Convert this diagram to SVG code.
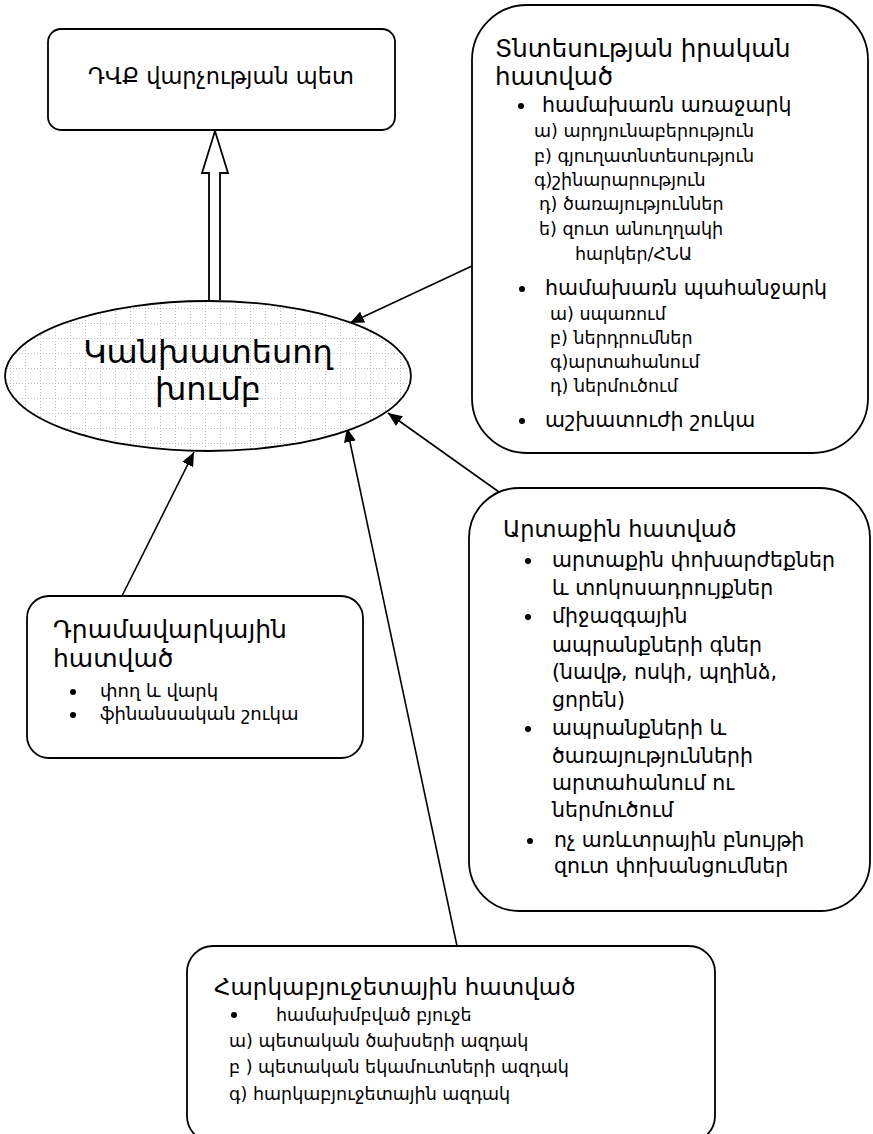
<svg xmlns="http://www.w3.org/2000/svg" width="873" height="1134" viewBox="0 0 873 1134">
<style>
.box{fill:#fff;stroke:#000;stroke-width:1.8}
text{font-family:"DejaVu Sans",sans-serif;fill:#000}
.t1{font-size:24px}
.t2{font-size:20.5px}
.t3{font-size:17.5px}
.c{stroke:#000;stroke-width:1.6;fill:none;marker-end:url(#ah)}
</style>
<defs>
<marker id="ah" viewBox="0 0 14 12" refX="14" refY="6" markerWidth="14" markerHeight="12" markerUnits="userSpaceOnUse" orient="auto">
<path d="M0,0 L14,6 L0,12 Z" fill="#000"/>
</marker>
<pattern id="grid" patternUnits="userSpaceOnUse" x="10" y="8" width="15" height="15">
<rect width="15" height="15" fill="#fff"/>
<path d="M0,0.5 H15 M0.5,0 V15" stroke="#b8b8b8" stroke-width="1" stroke-dasharray="1,2"/>
</pattern>
</defs>
<g id="connectors">
<path d="M209,300 V173 H202 L215,131 L228,173 H220 V300" fill="#fff" stroke="#000" stroke-width="1.8"/>
<line class="c" x1="472" y1="266" x2="350" y2="323"/>
<line class="c" x1="499" y1="492" x2="388" y2="413"/>
<line class="c" x1="457" y1="946" x2="347" y2="428"/>
<line class="c" x1="122" y1="596" x2="194" y2="452"/>
</g>
<g id="head">
<rect class="box" x="48" y="29" width="347" height="101" rx="13"/>
<text x="221" y="84" font-size="22.5" text-anchor="middle">ԴՎՔ վարչության պետ</text>
</g>
<g id="forecast">
<ellipse cx="208" cy="376" rx="203" ry="75" fill="url(#grid)" stroke="#000" stroke-width="1.8"/>
<text x="208" y="363" font-size="32" text-anchor="middle">Կանխատեսող</text>
<text x="208" y="400" font-size="32" text-anchor="middle">խումբ</text>
</g>
<g id="real">
<rect class="box" x="472" y="5" width="396" height="448" rx="55"/>
<text x="495" y="57" font-size="24.5">Տնտեսության իրական</text>
<text x="495" y="85" font-size="24.5">հատված</text>
<circle cx="521" cy="106" r="3"/>
<text class="t2" x="542" y="112">համախառն առաջարկ</text>
<text class="t3" x="534" y="137">ա) արդյունաբերություն</text>
<text class="t3" x="534" y="162">բ) գյուղատնտեսություն</text>
<text class="t3" x="534" y="186">գ)շինարարություն</text>
<text class="t3" x="539" y="210">դ) ծառայություններ</text>
<text class="t3" x="539" y="235">ե) զուտ անուղղակի</text>
<text class="t3" x="575" y="260">հարկեր/ՀՆԱ</text>
<circle cx="522" cy="289" r="3"/>
<text class="t2" x="545" y="295">համախառն պահանջարկ</text>
<text class="t3" x="550" y="320">ա) սպառում</text>
<text class="t3" x="550" y="344">բ) ներդրումներ</text>
<text class="t3" x="550" y="368">գ)արտահանում</text>
<text class="t3" x="550" y="392">դ) ներմուծում</text>
<circle cx="522" cy="421" r="3"/>
<text class="t2" x="545" y="427">աշխատուժի շուկա</text>
</g>
<g id="external">
<rect class="box" x="469" y="488" width="401" height="423" rx="50"/>
<text x="503" y="537" font-size="22.5">Արտաքին հատված</text>
<circle cx="528" cy="561" r="3"/>
<text class="t2" x="552" y="567">արտաքին փոխարժեքներ</text>
<text class="t2" x="552" y="595">և տոկոսադրույքներ</text>
<circle cx="528" cy="617" r="3"/>
<text class="t2" x="552" y="623">միջազգային</text>
<text class="t2" x="552" y="652">ապրանքների գներ</text>
<text class="t2" x="552" y="679">(նավթ, ոսկի, պղինձ,</text>
<text class="t2" x="552" y="707">ցորեն)</text>
<circle cx="528" cy="729" r="3"/>
<text class="t2" x="552" y="735">ապրանքների և</text>
<text class="t2" x="552" y="763">ծառայությունների</text>
<text class="t2" x="552" y="790">արտահանում ու</text>
<text class="t2" x="552" y="817">ներմուծում</text>
<circle cx="530" cy="841" r="3"/>
<text class="t2" x="554" y="847">ոչ առևտրային բնույթի</text>
<text class="t2" x="554" y="873">զուտ փոխանցումներ</text>
</g>
<g id="monetary">
<rect class="box" x="27" y="596" width="336" height="162" rx="22"/>
<text x="53" y="638" font-size="25">Դրամավարկային</text>
<text x="53" y="667" font-size="25">հատված</text>
<circle cx="73" cy="692" r="3"/>
<text x="100" y="697" font-size="18">փող և վարկ</text>
<circle cx="73" cy="715" r="3"/>
<text x="100" y="720" font-size="18">ֆինանսական շուկա</text>
</g>
<g id="fiscal">
<rect class="box" x="187" y="946" width="528" height="196" rx="26"/>
<text x="214" y="995" font-size="23">Հարկաբյուջետային հատված</text>
<circle cx="234" cy="1015" r="3"/>
<text class="t3" x="276" y="1021">համախմբված բյուջե</text>
<text class="t3" x="229" y="1047">ա) պետական ծախսերի ազդակ</text>
<text class="t3" x="229" y="1073">բ )  պետական եկամուտների ազդակ</text>
<text class="t3" x="229" y="1100">գ) հարկաբյուջետային ազդակ</text>
</g>
</svg>
